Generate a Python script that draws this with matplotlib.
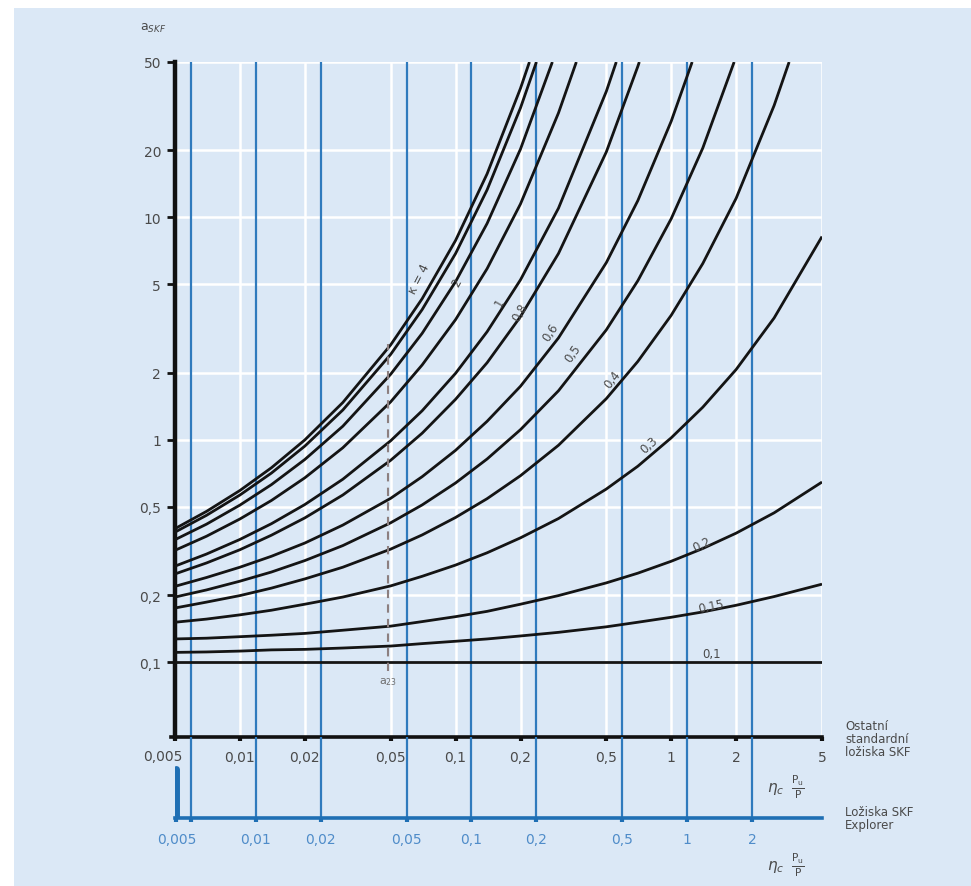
import matplotlib
matplotlib.use("Agg")
import matplotlib.pyplot as plt
from matplotlib.patches import Rectangle

# ----------------------------
# data
# ----------------------------
# eta_c * Pu/P positions where the curves were read
eta = [0.005, 0.007, 0.01, 0.014, 0.02, 0.03, 0.05, 0.07, 0.1, 0.14, 0.2, 0.3,
       0.5, 0.7, 1, 1.4, 2, 3, 5]

# a_SKF along each curve (top curve first); curves that leave the chart at 50
# get their exit point in top_eta
a_c1 = [0.398, 0.476, 0.591, 0.748, 0.998, 1.47, 2.67, 4.31, 7.88, 15.7, 38.1]
a_c2 = [0.384, 0.457, 0.564, 0.708, 0.936, 1.36, 2.42, 3.85, 6.88, 13.3, 31.1]
a_c3 = [0.355, 0.417, 0.508, 0.628, 0.815, 1.15, 1.97, 3.01, 5.14, 9.39, 20.3]
a_c4 = [0.318, 0.368, 0.44, 0.533, 0.674, 0.92, 1.48, 2.17, 3.47, 5.88, 11.5, 29.5]
a_c5 = [0.27, 0.306, 0.356, 0.419, 0.511, 0.664, 0.989, 1.35, 1.99, 3.06, 5.24, 11, 36.9]
a_c6 = [0.249, 0.279, 0.32, 0.372, 0.445, 0.564, 0.808, 1.07, 1.52, 2.22, 3.58, 6.88,
        19.7, 47.8]
a_c7 = [0.219, 0.24, 0.267, 0.299, 0.343, 0.413, 0.545, 0.682, 0.896, 1.21, 1.74, 2.87,
        6.26, 11.9, 27.1]
a_c8 = [0.196, 0.211, 0.231, 0.254, 0.286, 0.334, 0.423, 0.509, 0.639, 0.819, 1.11, 1.66,
        3.12, 5.19, 9.87, 20.5]
a_c9 = [0.175, 0.186, 0.199, 0.215, 0.2365, 0.267, 0.322, 0.373, 0.447, 0.543, 0.689,
        0.944, 1.53, 2.25, 3.63, 6.2, 12.2, 31.9]
a_c10 = [0.151, 0.156, 0.163, 0.171, 0.182, 0.196, 0.22, 0.243, 0.273, 0.31, 0.362,
         0.442, 0.6, 0.76, 1.02, 1.4, 2.07, 3.53, 8.2]
a_c11 = [0.127, 0.128, 0.13, 0.132, 0.1345, 0.139, 0.145, 0.152, 0.16, 0.169, 0.182,
         0.199, 0.227, 0.251, 0.284, 0.324, 0.38, 0.469, 0.645]
a_c12 = [0.1105, 0.111, 0.112, 0.1134, 0.114, 0.1156, 0.118, 0.121, 0.124, 0.127, 0.131,
         0.136, 0.144, 0.151, 0.159, 0.168, 0.18, 0.197, 0.224]
a_c13 = [0.1] * len(eta)

top_eta = [0.220, 0.237, 0.281, 0.363, 0.556, 0.711, 1.25, 1.957, 3.52]
a_max = 50

curves = [a_c1, a_c2, a_c3, a_c4, a_c5, a_c6, a_c7, a_c8, a_c9, a_c10, a_c11, a_c12, a_c13]

kappa_text = ["κ = 4", "2", "1", "0,8", "0,6", "0,5", "0,4", "0,3", "0,2", "0,15", "0,1"]
# (eta, a_SKF, rotation) of each kappa label
kappa_pos = [(0.068, 5.3, 63), (0.101, 5.12, 62), (0.16, 4.16, 60), (0.198, 3.75, 60),
             (0.275, 3.05, 57), (0.348, 2.45, 55), (0.533, 1.87, 52), (0.791, 0.956, 42),
             (1.39, 0.339, 25), (1.53, 0.179, 12), (1.53, 0.109, 0)]

y_ticks = [0.1, 0.2, 0.5, 1, 2, 5, 10, 20, 50]
y_labels = ["0,1", "0,2", "0,5", "1", "2", "5", "10", "20", "50"]
x_ticks = [0.005, 0.01, 0.02, 0.05, 0.1, 0.2, 0.5, 1, 2, 5]
x_labels = ["0,005", "0,01", "0,02", "0,05", "0,1", "0,2", "0,5", "1", "2", "5"]
blue_ticks = [0.005, 0.01, 0.02, 0.05, 0.1, 0.2, 0.5, 1, 2]
blue_labels = ["0,005", "0,01", "0,02", "0,05", "0,1", "0,2", "0,5", "1", "2"]
explorer_shift = 1.185   # SKF Explorer scale sits this factor to the right
a23_eta = 0.0484
a23_range = [0.091, 2.69]

# ----------------------------
# figure
# ----------------------------
W, H = 971, 887
BG = "#dbe8f6"
TXT = "#4a4a4a"
BLUE = "#1f6fb4"
BLUE_LINE = "#2f7abd"
BLUE_TXT = "#4f8cc9"
FS = 10
plt.rcParams["font.family"] = ["DejaVu Sans"]
plt.rcParams["mathtext.fontset"] = "dejavusans"

fig = plt.figure(figsize=(W / 100, H / 100), dpi=100, facecolor="white")
fig.patches.append(Rectangle((14 / W, 0), 1, 1 - 9 / H, transform=fig.transFigure,
                             facecolor=BG, edgecolor="none", zorder=-10))


def px(x0, y0, x1, y1):
    return [x0 / W, 1 - y1 / H, (x1 - x0) / W, (y1 - y0) / H]


ax = fig.add_axes(px(175, 63, 822, 738))
ax.set_facecolor("none")
ax.set_xscale("log")
ax.set_yscale("log")
ax.set_xlim(0.005, 5)
ax.set_ylim(0.046, 50)

# white grid
for t in x_ticks:
    ax.axvline(t, color="white", lw=1.8, zorder=0)
for t in y_ticks:
    ax.axhline(t, color="white", lw=1.8, zorder=0)

# blue SKF Explorer lines
for t in blue_ticks:
    ax.axvline(t * explorer_shift, color=BLUE_LINE, lw=1.6, zorder=1)

for i, a in enumerate(curves):
    xs = eta[:len(a)]
    ys = list(a)
    if i < len(top_eta):
        xs = xs + [top_eta[i]]
        ys = ys + [a_max]
    ax.plot(xs, ys, color="#141414", lw=2.0, zorder=3, solid_capstyle="butt")

# a23 dashed marker
ax.plot([a23_eta, a23_eta], a23_range, color="#8c7f80", lw=1.5, ls=(0, (4, 3)), zorder=4)
ax.text(a23_eta, 0.087, "a$_{23}$", color="#6d6d6d", fontsize=8, ha="center", va="top")

for txt, (xx, yy, rot) in zip(kappa_text, kappa_pos):
    ax.text(xx, yy, txt, color="#4a4a4a", fontsize=8.5, rotation=rot,
            ha="center", va="center", zorder=5)

for side in ["top", "right"]:
    ax.spines[side].set_visible(False)
ax.spines["left"].set_linewidth(3.2)
ax.spines["bottom"].set_linewidth(2.6)
ax.spines["left"].set_color("#111111")
ax.spines["bottom"].set_color("#111111")
ax.spines["bottom"].set_bounds(0.0048, 5)

ax.set_yticks(y_ticks)
ax.set_yticklabels(y_labels)
ax.set_xticks(x_ticks)
ax.set_xticklabels([""] + x_labels[1:])
ax.minorticks_off()
ax.tick_params(axis="y", length=6, width=2, color="#111111", labelcolor=TXT,
               labelsize=FS, pad=4)
ax.tick_params(axis="x", length=3, width=3, color="#111111", labelcolor=TXT,
               labelsize=FS, pad=6)
fig.text(163 / W, 1 - 757 / H, x_labels[0], color=TXT, fontsize=FS,
         ha="center", va="center")

# SKF Explorer scale underneath
ax2 = fig.add_axes(px(175, 738, 822, 819))
ax2.set_facecolor("none")
ax2.set_xscale("log")
ax2.set_xlim(0.005, 5)
ax2.set_ylim(0, 1)
for t in blue_ticks:
    ax2.axvline(t * explorer_shift, color=BLUE_LINE, lw=1.6, zorder=1)
ax2.axvline(0.00505, ymin=0, ymax=0.6, color=BLUE, lw=5, solid_capstyle="round")
for side in ["top", "right", "left"]:
    ax2.spines[side].set_visible(False)
ax2.spines["bottom"].set_color(BLUE)
ax2.spines["bottom"].set_linewidth(2.6)
ax2.set_yticks([])
ax2.set_xticks([0.00505] + [t * explorer_shift for t in blue_ticks])
ax2.set_xticklabels([""] * (len(blue_ticks) + 1))
ax2.minorticks_off()
ax2.tick_params(axis="x", length=3, width=3, color=BLUE, pad=6)
for t, lab in zip(blue_ticks[1:], blue_labels[1:]):
    ax2.text(t * explorer_shift, -0.26, lab, color=BLUE_TXT, fontsize=FS,
             ha="center", va="center", transform=ax2.get_xaxis_transform())
fig.text(177 / W, 1 - 840 / H, blue_labels[0], color=BLUE_TXT, fontsize=FS,
         ha="center", va="center")

# texts
fig.text(140 / W, 1 - 28 / H, "a$_{SKF}$", color=TXT, fontsize=9, ha="left", va="center")
frac = r"$\eta_c\;\;\frac{\mathsf{P_u}}{\mathsf{P}}$"
fig.text(786 / W, 1 - 787 / H, frac, color=TXT, fontsize=11, ha="center", va="center")
fig.text(786 / W, 1 - 865 / H, frac, color=TXT, fontsize=11, ha="center", va="center")
fig.text(845 / W, 1 - 740 / H, "Ostatní\nstandardní\nložiska SKF", color=TXT,
         fontsize=8.5, ha="left", va="center", linespacing=1.0)
fig.text(845 / W, 1 - 819 / H, "Ložiska SKF\nExplorer", color=TXT,
         fontsize=8.5, ha="left", va="center", linespacing=1.0)

fig.savefig("out.png", dpi=100, facecolor=fig.get_facecolor())
